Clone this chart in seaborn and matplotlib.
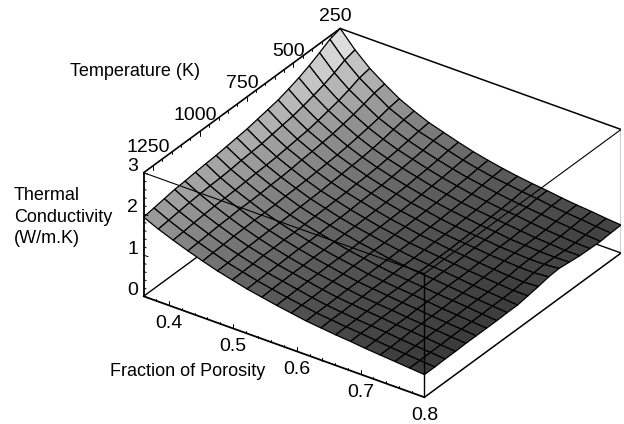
import numpy as np
import seaborn as sns
import matplotlib.pyplot as plt

porosity = np.linspace(0.36, 0.8, 20)
temperature = np.linspace(250, 1300, 20)

# conductivity, one row per temperature (250 K first)
conductivity = [
    [3.00, 2.61, 2.29, 2.04, 1.81, 1.64, 1.49, 1.38, 1.27, 1.17, 1.09, 1.02, 0.96, 0.91, 0.87, 0.82, 0.78, 0.75, 0.71, 0.68],
    [2.92, 2.54, 2.24, 2.00, 1.77, 1.61, 1.46, 1.36, 1.25, 1.15, 1.07, 1.00, 0.95, 0.90, 0.86, 0.81, 0.77, 0.74, 0.70, 0.67],
    [2.78, 2.42, 2.14, 1.92, 1.71, 1.56, 1.42, 1.31, 1.21, 1.12, 1.04, 0.98, 0.92, 0.87, 0.83, 0.79, 0.75, 0.72, 0.68, 0.65],
    [2.65, 2.32, 2.06, 1.85, 1.66, 1.51, 1.38, 1.28, 1.18, 1.09, 1.02, 0.95, 0.90, 0.85, 0.82, 0.77, 0.73, 0.70, 0.67, 0.66],
    [2.54, 2.24, 2.00, 1.80, 1.62, 1.47, 1.35, 1.25, 1.16, 1.07, 1.00, 0.93, 0.88, 0.84, 0.80, 0.76, 0.72, 0.70, 0.67, 0.67],
    [2.45, 2.17, 1.94, 1.75, 1.58, 1.44, 1.32, 1.22, 1.13, 1.05, 0.98, 0.92, 0.87, 0.82, 0.79, 0.74, 0.72, 0.70, 0.69, 0.70],
    [2.37, 2.11, 1.89, 1.72, 1.55, 1.42, 1.30, 1.20, 1.12, 1.03, 0.97, 0.90, 0.85, 0.81, 0.78, 0.74, 0.72, 0.70, 0.70, 0.73],
    [2.32, 2.07, 1.86, 1.69, 1.53, 1.40, 1.29, 1.19, 1.10, 1.02, 0.96, 0.89, 0.84, 0.80, 0.77, 0.73, 0.71, 0.69, 0.68, 0.71],
    [2.27, 2.03, 1.83, 1.67, 1.51, 1.38, 1.27, 1.18, 1.09, 1.01, 0.95, 0.88, 0.84, 0.79, 0.76, 0.72, 0.69, 0.66, 0.64, 0.66],
    [2.22, 1.99, 1.80, 1.64, 1.49, 1.36, 1.26, 1.16, 1.08, 1.00, 0.94, 0.87, 0.83, 0.79, 0.75, 0.71, 0.68, 0.65, 0.62, 0.62],
    [2.19, 1.97, 1.78, 1.62, 1.48, 1.35, 1.25, 1.15, 1.07, 1.00, 0.93, 0.87, 0.82, 0.78, 0.75, 0.71, 0.67, 0.64, 0.61, 0.58],
    [2.16, 1.95, 1.77, 1.61, 1.47, 1.34, 1.24, 1.15, 1.07, 0.99, 0.93, 0.86, 0.82, 0.78, 0.75, 0.71, 0.67, 0.64, 0.61, 0.58],
    [2.13, 1.92, 1.75, 1.59, 1.45, 1.33, 1.23, 1.14, 1.06, 0.98, 0.92, 0.86, 0.81, 0.77, 0.74, 0.70, 0.67, 0.64, 0.60, 0.57],
    [2.11, 1.90, 1.73, 1.58, 1.44, 1.32, 1.22, 1.13, 1.05, 0.98, 0.92, 0.85, 0.81, 0.77, 0.74, 0.70, 0.66, 0.63, 0.60, 0.57],
    [2.09, 1.89, 1.72, 1.58, 1.44, 1.32, 1.22, 1.13, 1.05, 0.98, 0.91, 0.85, 0.81, 0.77, 0.73, 0.70, 0.66, 0.63, 0.60, 0.57],
    [2.06, 1.87, 1.71, 1.56, 1.43, 1.31, 1.21, 1.12, 1.04, 0.97, 0.91, 0.85, 0.80, 0.76, 0.73, 0.69, 0.66, 0.63, 0.60, 0.57],
    [2.04, 1.85, 1.69, 1.55, 1.42, 1.30, 1.21, 1.11, 1.04, 0.97, 0.90, 0.84, 0.80, 0.76, 0.73, 0.69, 0.66, 0.63, 0.59, 0.56],
    [2.00, 1.82, 1.67, 1.53, 1.40, 1.29, 1.19, 1.10, 1.03, 0.96, 0.89, 0.83, 0.79, 0.75, 0.72, 0.69, 0.65, 0.62, 0.59, 0.56],
    [1.96, 1.79, 1.64, 1.51, 1.39, 1.27, 1.18, 1.09, 1.02, 0.95, 0.89, 0.83, 0.79, 0.75, 0.72, 0.68, 0.64, 0.61, 0.58, 0.55],
    [1.92, 1.76, 1.62, 1.49, 1.37, 1.26, 1.17, 1.08, 1.01, 0.94, 0.88, 0.82, 0.78, 0.74, 0.71, 0.67, 0.64, 0.61, 0.58, 0.55],
]

porosity_ticks = [0.4, 0.5, 0.6, 0.7, 0.8]
temperature_ticks = [250, 500, 750, 1000, 1250]
conductivity_ticks = [0, 1, 2, 3]

P_MIN, P_MAX = 0.36, 0.8
T_MIN, T_MAX = 250, 1300
Z_MIN, Z_MAX = 0, 3

sns.set_theme(style="white")
plt.rcParams["font.family"] = ["Liberation Sans", "DejaVu Sans"]
gray = sns.color_palette("gray", as_cmap=True)

W, H = 624, 424
S = 491
fig = plt.figure(figsize=(W / 100, H / 100), dpi=100)
ax = fig.add_axes([(375.7 - S / 2) / W, (H - 219.5 - S / 2) / H, S / W, S / H],
                  projection="3d", computed_zorder=False)
ax.set_proj_type("ortho")
ax.view_init(elev=30.9, azim=-55)
ax.set_box_aspect((1, 1, 0.42))
ax.set_xlim(P_MIN, P_MAX, view_margin=0)
ax.set_ylim(T_MAX, T_MIN, view_margin=0)
ax.set_zlim(Z_MIN, Z_MAX, view_margin=0)
ax.set_axis_off()


def edge(a, b, zorder, lw=1.0):
    ax.plot(*zip(a, b), color="black", lw=lw, zorder=zorder, solid_capstyle="round")


# box edges behind the surface
edge((P_MIN, T_MAX, Z_MIN), (P_MIN, T_MIN, Z_MIN), 1)
edge((P_MIN, T_MIN, Z_MIN), (P_MAX, T_MIN, Z_MIN), 1)
edge((P_MIN, T_MIN, Z_MIN), (P_MIN, T_MIN, Z_MAX), 1)
edge((P_MIN, T_MAX, Z_MAX), (P_MIN, T_MIN, Z_MAX), 1, 1.2)
edge((P_MIN, T_MIN, Z_MAX), (P_MAX, T_MIN, Z_MAX), 1, 1.1)

X, Y = np.meshgrid(porosity, temperature)
ax.plot_surface(X, Y, np.array(conductivity), rstride=1, cstride=1, cmap=gray,
                vmin=-0.24, vmax=3.24, edgecolor="black", linewidth=0.9,
                shade=False, zorder=2)

# box edges in front of the surface
edge((P_MIN, T_MAX, Z_MIN), (P_MAX, T_MAX, Z_MIN), 3, 1.3)
edge((P_MAX, T_MAX, Z_MIN), (P_MAX, T_MIN, Z_MIN), 3, 1.1)
edge((P_MIN, T_MAX, Z_MAX), (P_MAX, T_MAX, Z_MAX), 3, 0.8)
edge((P_MAX, T_MAX, Z_MAX), (P_MAX, T_MIN, Z_MAX), 3, 0.8)
edge((P_MIN, T_MAX, Z_MIN), (P_MIN, T_MAX, Z_MAX), 3, 1.3)
edge((P_MAX, T_MAX, Z_MIN), (P_MAX, T_MAX, Z_MAX), 3, 1.0)
edge((P_MAX, T_MIN, Z_MIN), (P_MAX, T_MIN, Z_MAX), 3, 1.0)

# tick marks, major and minor
for p in np.arange(0.36, 0.801, 0.02):
    length = 0.1 if abs(p * 10 - round(p * 10)) < 1e-6 else 0.05
    edge((p, T_MAX, Z_MIN), (p, T_MAX, Z_MIN + length), 3, 0.7)
for t in np.arange(300, 1300, 50):
    length = 0.1 if t % 250 == 0 else 0.05
    edge((P_MIN, t, Z_MAX), (P_MIN, t, Z_MAX - length), 1, 0.7)
for z in np.arange(0, 3.01, 0.2):
    length = 0.007 if abs(z - round(z)) < 1e-6 else 0.004
    edge((P_MIN, T_MAX, z), (P_MIN + length, T_MAX, z), 3, 0.7)

FS = 13
TICK_FS = 14
for p in porosity_ticks:
    ax.text(p, T_MAX, Z_MIN - 0.45, f"{p:.1f}", ha="center", va="center", fontsize=TICK_FS, color="black")
for t, lift in zip(temperature_ticks, [0.375, 0.35, 0.42, 0.47, 0.52]):
    ax.text(P_MIN, t + 25, Z_MAX + lift, str(t), ha="center", va="center", fontsize=TICK_FS, color="black")
for z in conductivity_ticks:
    ax.text(P_MIN - 0.017, T_MAX, z + 0.05, str(z), ha="center", va="center", fontsize=TICK_FS, color="black")

fig.text(70 / W, 1 - 71 / H, "Temperature (K)", ha="left", va="center", fontsize=FS, color="black")
fig.text(110 / W, 1 - 372 / H, "Fraction of Porosity", ha="left", va="center", fontsize=FS, color="black")
fig.text(14 / W, 1 - 195 / H, "Thermal", ha="left", va="center", fontsize=FS, color="black")
fig.text(14 / W, 1 - 217 / H, "Conductivity", ha="left", va="center", fontsize=FS, color="black")
fig.text(14 / W, 1 - 238 / H, "(W/m.K)", ha="left", va="center", fontsize=FS, color="black")

fig.savefig("out.png", dpi=100, facecolor="white")
